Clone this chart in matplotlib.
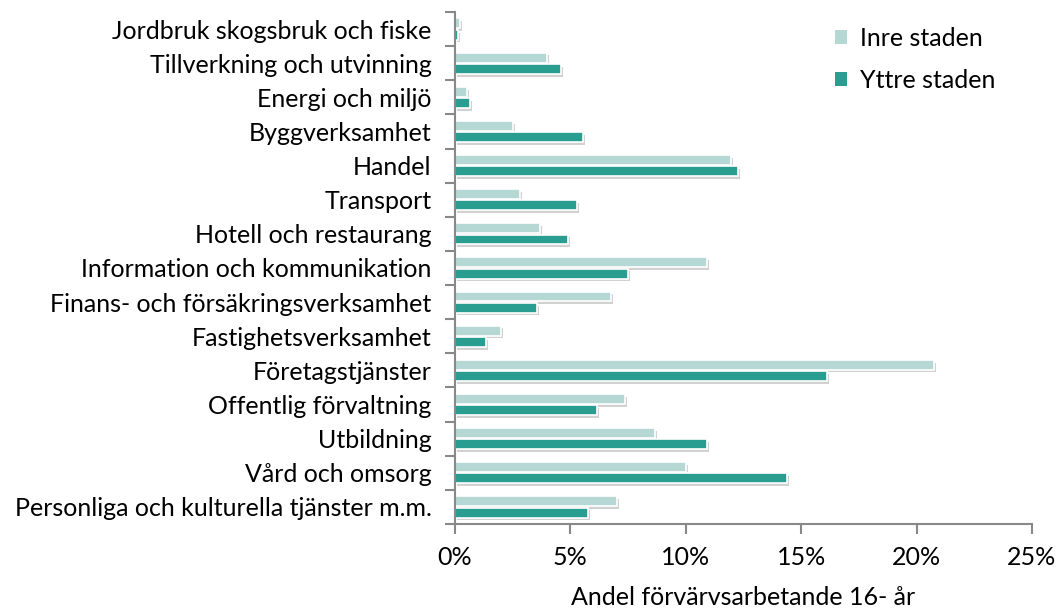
import numpy as np
import matplotlib.pyplot as plt
import matplotlib.patheffects as pe
from matplotlib.patches import Patch

plt.rcParams['font.family'] = ['Lato', 'DejaVu Sans']

categories = ['Jordbruk skogsbruk och fiske', 'Tillverkning och utvinning', 'Energi och miljö',
              'Byggverksamhet', 'Handel', 'Transport', 'Hotell och restaurang',
              'Information och kommunikation', 'Finans- och försäkringsverksamhet',
              'Fastighetsverksamhet', 'Företagstjänster', 'Offentlig förvaltning',
              'Utbildning', 'Vård och omsorg', 'Personliga och kulturella tjänster m.m.']
inre = [0.2, 4.0, 0.5, 2.5, 11.95, 2.8, 3.7, 10.9, 6.75, 2.0, 20.75, 7.35, 8.65, 10.0, 7.0]
yttre = [0.12, 4.6, 0.65, 5.55, 12.25, 5.3, 4.9, 7.5, 3.55, 1.35, 16.1, 6.15, 10.9, 14.4, 5.75]
xticks = [0, 5, 10, 15, 20, 25]

c_inre = '#b5d8d5'
c_yttre = '#2a9d91'

fig = plt.figure(figsize=(10.59, 6.10), dpi=100)
ax = fig.add_axes([455/1059, 1-524/610, (1032-455)/1059, (524-12)/610])

y = np.arange(len(categories))
h = 0.29
shadow = [pe.SimplePatchShadow(offset=(1.5, -2), shadow_rgbFace='#999999', alpha=0.45), pe.Normal()]
b1 = ax.barh(y - h/2 - 0.02, inre, height=h, color=c_inre, edgecolor='white', linewidth=1.2)
b2 = ax.barh(y + h/2 + 0.02, yttre, height=h, color=c_yttre, edgecolor='white', linewidth=1.2)
for b in list(b1) + list(b2):
    b.set_path_effects(shadow)

ax.set_ylim(len(categories) - 0.5, -0.5)
ax.set_xlim(0, 25)
ax.set_xticks(xticks)
ax.set_xticklabels([f'{t}%' for t in xticks])
ax.set_yticks(y)
ax.set_yticklabels(categories)
ax.set_yticks(np.arange(len(categories) + 1) - 0.5, minor=True)
ax.tick_params(axis='y', which='major', length=0, pad=17, labelsize=18)
ax.tick_params(axis='y', which='minor', length=7, width=1.5, color='#888888', direction='out')
ax.tick_params(axis='x', length=7, width=1.5, color='#888888', direction='out', labelsize=18, pad=9)

for s in ['top', 'right']:
    ax.spines[s].set_visible(False)
for s in ['left', 'bottom']:
    ax.spines[s].set_color('#888888')
    ax.spines[s].set_linewidth(1.5)

ax.set_xlabel('Andel förvärvsarbetande 16- år', fontsize=18, labelpad=12)

handles = [Patch(facecolor=c_inre, label='Inre staden'), Patch(facecolor=c_yttre, label='Yttre staden')]
ax.legend(handles=handles, loc='upper right', bbox_to_anchor=(0.975, 1.015), frameon=False, fontsize=18,
          handlelength=0.5, handleheight=0.5, handletextpad=0.5, labelspacing=0.75)

fig.savefig('out.png', dpi=100)
